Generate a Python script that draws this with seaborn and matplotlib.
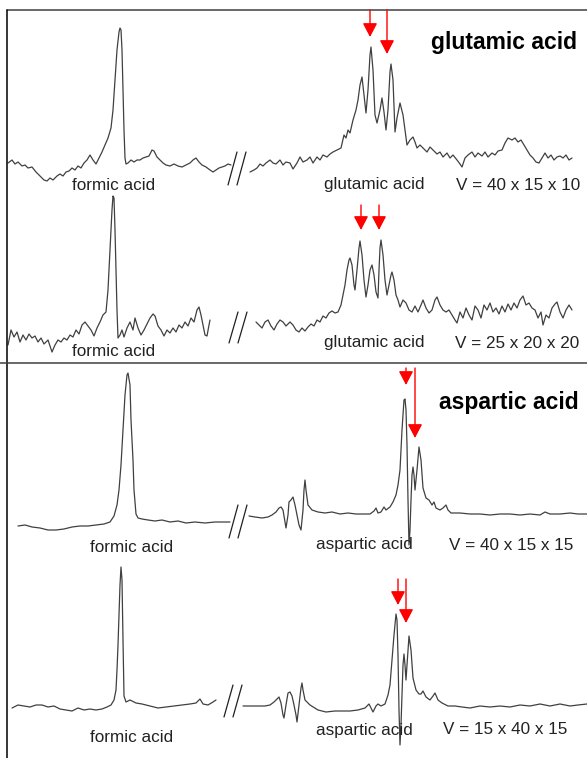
import matplotlib
matplotlib.use('Agg')
import matplotlib.pyplot as plt
import seaborn as sns

sns.set_style('white')
plt.rcParams['font.family'] = ['Liberation Sans', 'DejaVu Sans']

# traces (x = channel position, y = pixel row of the trace)
# panel 1 : glutamic acid, V = 40 x 15 x 10
p1_formic_x = [8, 12, 15, 18, 22, 25, 28, 32, 36, 40, 44, 47, 50, 53, 57, 60, 63, 66, 69, 72, 75, 78, 81, 84, 87, 90,
               93, 96, 99, 102, 105, 108, 111, 113, 115, 117, 119, 120, 121, 122, 123, 124, 125, 126, 128, 131, 134,
               137, 140, 143, 146, 149, 152, 154, 157, 160, 163, 166, 170, 174, 178, 182, 186, 190, 193, 196, 199,
               202, 206, 210, 213, 216, 219, 222, 225, 228, 231]
p1_formic_y = [163, 160, 164, 162, 166, 165, 168, 167, 172, 176, 180, 181, 178, 180, 176, 174, 176, 172, 171, 168, 170,
               166, 168, 163, 160, 155, 160, 164, 158, 152, 145, 138, 128, 110, 80, 50, 32, 28, 30, 50, 90, 130, 158,
               164, 163, 160, 162, 160, 160, 158, 157, 156, 150, 151, 157, 160, 163, 165, 166, 164, 166, 167, 165,
               163, 160, 158, 162, 165, 167, 170, 172, 170, 168, 167, 166, 164, 165]
p1_amino_x = [250, 254, 257, 260, 263, 266, 270, 273, 276, 280, 283, 286, 290, 293, 297, 300, 303, 307, 310, 313, 317,
              320, 323, 327, 330, 333, 337, 341, 344, 346, 348, 350, 353, 356, 358, 360, 362, 364, 366, 368, 370, 371,
              373, 375, 377, 380, 382, 384, 386, 388, 390, 391, 393, 395, 397, 400, 403, 405, 407, 410, 413, 415, 417,
              420, 423, 427, 430, 433, 437, 440, 443, 447, 450, 453, 457, 460, 462, 465, 468, 472, 475, 478, 482, 485,
              488, 492, 495, 498, 502, 505, 508, 512, 515, 518, 521, 524, 527, 530, 533, 536, 539, 542, 545, 548, 551,
              554, 557, 560, 563, 566, 569, 572]
p1_amino_y = [172, 170, 168, 164, 166, 163, 160, 163, 164, 160, 165, 162, 163, 169, 163, 157, 162, 160, 157, 163, 157,
              160, 155, 157, 154, 152, 150, 148, 135, 138, 130, 133, 120, 110, 100, 85, 77, 95, 113, 90, 55, 47, 70,
              115, 123, 110, 98, 112, 130, 110, 72, 64, 80, 132, 118, 103, 115, 130, 145, 140, 137, 142, 148, 145, 148,
              152, 147, 150, 154, 152, 157, 153, 158, 155, 160, 164, 167, 158, 155, 152, 157, 153, 156, 152, 157, 153,
              155, 151, 150, 143, 138, 140, 138, 142, 140, 145, 150, 155, 158, 162, 163, 158, 153, 158, 155, 160, 157,
              156, 158, 155, 160, 158]

# panel 2 : glutamic acid, V = 25 x 20 x 20
p2_formic_x = [8, 11, 14, 17, 20, 23, 26, 29, 32, 35, 38, 41, 44, 48, 52, 55, 58, 61, 64, 67, 70, 73, 76, 79, 82, 85,
               88, 91, 94, 97, 100, 103, 106, 108, 110, 112, 113, 114, 115, 116, 117, 118, 120, 122, 124, 127, 130,
               133, 135, 138, 141, 144, 147, 150, 153, 155, 158, 161, 164, 167, 170, 173, 176, 179, 182, 185, 188,
               191, 194, 197, 199, 201, 203, 205, 207, 209, 210]
p2_formic_y = [345, 330, 337, 332, 342, 335, 340, 334, 338, 336, 342, 338, 344, 340, 352, 345, 340, 342, 338, 340, 335,
               337, 330, 334, 325, 322, 326, 330, 336, 328, 322, 315, 312, 290, 250, 210, 196, 198, 230, 270, 310,
               338, 335, 330, 337, 328, 322, 330, 318, 328, 335, 330, 324, 318, 314, 316, 326, 330, 336, 330, 333,
               328, 332, 325, 328, 322, 326, 318, 322, 310, 307, 315, 325, 335, 336, 325, 320]
p2_amino_x = [256, 259, 262, 265, 268, 271, 274, 277, 280, 283, 286, 290, 293, 296, 299, 302, 305, 308, 311, 314, 317,
              320, 323, 326, 329, 332, 335, 338, 341, 343, 345, 347, 349, 350, 352, 354, 355, 357, 359, 360, 362, 364,
              366, 368, 370, 372, 374, 376, 378, 379, 380, 381, 383, 385, 387, 389, 391, 392, 394, 396, 398, 400, 403,
              406, 409, 412, 415, 418, 421, 423, 426, 429, 432, 435, 437, 440, 443, 446, 449, 452, 455, 457, 460, 463,
              466, 469, 472, 475, 478, 481, 484, 487, 490, 493, 496, 499, 502, 505, 508, 511, 514, 517, 520, 523, 526,
              529, 532, 535, 538, 541, 543, 546, 549, 552, 555, 557, 560, 563, 566, 569, 572]
p2_amino_y = [322, 325, 328, 322, 320, 326, 330, 324, 320, 322, 326, 322, 325, 330, 332, 328, 331, 327, 324, 326, 320,
              322, 316, 318, 313, 311, 313, 312, 305, 295, 285, 270, 260, 258, 265, 285, 290, 270, 248, 241, 255, 280,
              297, 285, 270, 265, 275, 292, 298, 270, 248, 240, 255, 280, 295, 285, 275, 272, 280, 295, 300, 307, 300,
              303, 310, 312, 306, 312, 305, 300, 308, 313, 310, 300, 297, 305, 310, 312, 310, 315, 320, 323, 312, 318,
              308, 315, 320, 306, 310, 318, 305, 310, 303, 312, 308, 314, 306, 312, 304, 310, 303, 308, 300, 296, 305,
              303, 308, 310, 318, 312, 325, 315, 318, 308, 304, 302, 312, 318, 310, 305, 310]

# panel 3 : aspartic acid, V = 40 x 15 x 15
p3_formic_x = [18, 25, 32, 40, 48, 56, 64, 72, 80, 88, 96, 104, 110, 114, 117, 119, 121, 123, 125, 127, 128, 130, 131,
               133, 134, 136, 138, 142, 148, 155, 162, 170, 178, 186, 195, 205, 215, 223, 230]
p3_formic_y = [526, 525, 527, 528, 530, 530, 529, 527, 526, 526, 525, 524, 522, 516, 505, 490, 465, 430, 395, 375, 373,
               385, 420, 460, 490, 514, 518, 519, 520, 521, 520, 522, 521, 523, 522, 523, 522, 522, 522]
p3_amino_x = [249, 255, 262, 268, 272, 276, 279, 281, 283, 285, 286, 288, 289, 291, 293, 295, 297, 299, 301, 303, 304,
              305, 306, 308, 312, 318, 325, 332, 340, 348, 356, 364, 370, 374, 376, 378, 381, 384, 386, 390, 393, 396,
              398, 400, 402, 404, 405, 406, 407, 408, 409, 410, 411, 412, 413, 414, 415, 417, 419, 421, 423, 426, 429,
              432, 434, 436, 440, 443, 446, 448, 451, 460, 470, 480, 490, 500, 510, 520, 530, 540, 545, 550, 560, 570,
              578, 587]
p3_amino_y = [516, 517, 518, 517, 515, 512, 508, 507, 510, 522, 528, 515, 502, 500, 497, 505, 515, 525, 530, 510, 490,
              480, 490, 505, 510, 512, 513, 512, 514, 513, 514, 514, 514, 511, 508, 513, 512, 507, 510, 507, 502, 495,
              485, 470, 430, 400, 399, 410, 445, 500, 545, 530, 500, 475, 467, 475, 490, 470, 447, 460, 488, 498, 500,
              505, 502, 508, 510, 508, 505, 510, 513, 513, 514, 514, 515, 514, 514, 515, 514, 515, 512, 514, 514, 513,
              514, 514]

# panel 4 : aspartic acid, V = 15 x 40 x 15
p4_formic_x = [12, 18, 24, 30, 36, 42, 48, 54, 60, 66, 72, 78, 84, 90, 96, 102, 107, 111, 114, 116, 117, 118, 119, 120,
               121, 122, 123, 124, 126, 130, 136, 142, 150, 158, 166, 174, 182, 190, 196, 200, 203, 208, 213, 216]
p4_formic_y = [708, 705, 706, 707, 705, 705, 707, 706, 709, 710, 711, 708, 710, 709, 710, 709, 707, 705, 700, 690, 670,
               645, 615, 585, 567, 580, 640, 696, 702, 700, 703, 704, 706, 708, 707, 706, 705, 704, 703, 699, 704, 705,
               702, 700]
p4_amino_x = [243, 250, 258, 265, 270, 274, 277, 279, 281, 283, 284, 286, 288, 290, 292, 294, 296, 297, 299, 301, 302,
              303, 305, 310, 318, 326, 335, 343, 350, 358, 365, 369, 371, 373, 376, 378, 381, 385, 388, 390, 392, 394,
              396, 397, 398, 399, 400, 401, 402, 403, 404, 405, 406, 407, 409, 411, 413, 416, 419, 421, 423, 426, 430,
              433, 435, 438, 442, 448, 455, 462, 470, 480, 490, 500, 510, 520, 530, 540, 550, 560, 570, 578, 587]
p4_amino_y = [706, 706, 706, 706, 705, 702, 699, 697, 703, 715, 718, 705, 693, 692, 696, 705, 715, 722, 705, 688, 683,
              690, 700, 705, 710, 712, 711, 711, 711, 710, 708, 704, 708, 712, 706, 704, 706, 704, 695, 685, 660, 635,
              614, 620, 655, 710, 745, 725, 695, 665, 654, 665, 680, 665, 636, 650, 678, 690, 694, 694, 691, 697, 700,
              696, 693, 700, 703, 706, 706, 707, 708, 706, 707, 706, 707, 705, 706, 704, 706, 704, 706, 705, 704]

# red arrows marking the amino acid lines
arrow_x = [370, 387, 361, 379, 406, 415, 398, 406]
arrow_start = [10, 10, 205, 205, 368, 368, 579, 579]
arrow_tip = [37, 54, 230, 230, 385, 438, 605, 623]

titles = ['glutamic acid', 'aspartic acid']
volumes = ['V = 40 x 15 x 10', 'V = 25 x 20 x 20', 'V = 40 x 15 x 15', 'V = 15 x 40 x 15']
amino_names = ['glutamic acid', 'glutamic acid', 'aspartic acid', 'aspartic acid']

traces = [(p1_formic_x, p1_formic_y), (p1_amino_x, p1_amino_y),
          (p2_formic_x, p2_formic_y), (p2_amino_x, p2_amino_y),
          (p3_formic_x, p3_formic_y), (p3_amino_x, p3_amino_y),
          (p4_formic_x, p4_formic_y), (p4_amino_x, p4_amino_y)]

fig = plt.figure(figsize=(5.87, 7.58), dpi=100)
ax = fig.add_axes([0, 0, 1, 1])
ax.set_xlim(0, 587)
ax.set_ylim(758, 0)
ax.axis('off')

trace_col = '#404040'
for tx, ty in traces:
    sns.lineplot(x=tx, y=ty, ax=ax, color=trace_col, lw=0.9, sort=False, estimator=None)

# frame lines
frame_col = '#404040'
ax.plot([7, 587], [10, 10], color=frame_col, lw=1.1)
ax.plot([7, 7], [10, 758], color='black', lw=1.1)
ax.plot([0, 587], [363, 363], color=frame_col, lw=1.1)

# axis break marks  //
breaks = [(228, 152, 185), (229, 312, 343), (229, 505, 538), (224, 685, 717)]
for bx, ytop, ybot in breaks:
    for dx in [0, 9]:
        ax.plot([bx + dx, bx + dx + 9], [ybot, ytop], color='#202020', lw=0.9)

for x, y0, y1 in zip(arrow_x, arrow_start, arrow_tip):
    ax.annotate('', xy=(x, y1), xytext=(x, y0),
                arrowprops=dict(arrowstyle='-|>,head_length=0.42,head_width=0.22', color='#ff0000',
                                lw=1.0, mutation_scale=20, shrinkA=0, shrinkB=0))

# labels
lab_fs = 12.3
formic_pos = [(114, 185), (114, 352), (132, 547), (132, 738)]
amino_pos = [(374, 185), (374, 343), (364, 545), (364, 730)]
vol_pos = [(518, 185), (517, 343), (511, 545), (505, 730)]
for i in range(4):
    ax.text(*formic_pos[i], 'formic acid', ha='center', va='center', fontsize=lab_fs, color='#222222')
    ax.text(*amino_pos[i], amino_names[i], ha='center', va='center', fontsize=lab_fs, color='#222222')
    ax.text(*vol_pos[i], volumes[i], ha='center', va='center', fontsize=lab_fs, color='#222222')

ax.text(504, 42, titles[0], ha='center', va='center', fontsize=16.5, fontweight='bold', color='black')
ax.text(509, 402, titles[1], ha='center', va='center', fontsize=16.5, fontweight='bold', color='black')

fig.savefig('out.png', dpi=100, facecolor='white')
